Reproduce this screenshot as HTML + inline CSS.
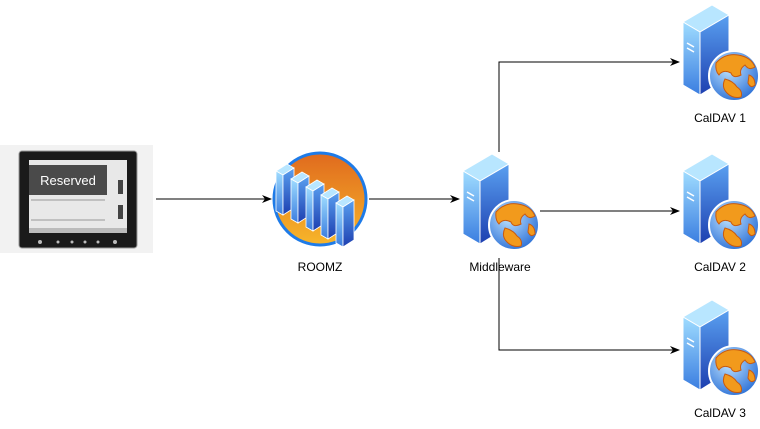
<!DOCTYPE html>
<html><head><meta charset="utf-8"><style>
body{margin:0;background:#fff;}
svg text{font-family:"Liberation Sans",sans-serif;font-size:12px;fill:#000;}
</style></head><body>
<svg width="760" height="424" viewBox="0 0 760 424" xmlns="http://www.w3.org/2000/svg">
<defs>
<linearGradient id="lf" x1="0" y1="0" x2="0" y2="1"><stop offset="0" stop-color="#9fdcff"/><stop offset="1" stop-color="#3a7de0"/></linearGradient>
<linearGradient id="rf" x1="0" y1="0" x2="0" y2="1"><stop offset="0" stop-color="#5aa0f0"/><stop offset="1" stop-color="#1d3fb0"/></linearGradient>
<radialGradient id="gl" cx="0.4" cy="0.35" r="0.7"><stop offset="0" stop-color="#bfe3ff"/><stop offset="1" stop-color="#2a6fd6"/></radialGradient>
<linearGradient id="og" x1="0" y1="0" x2="0" y2="1"><stop offset="0" stop-color="#e06a1e"/><stop offset="1" stop-color="#f7b62a"/></linearGradient>
<g id="srv">
<polygon points="0,17 29,0 46,10 17,27" fill="#b8e6ff" stroke="#fff" stroke-width="1"/>
<polygon points="0,17 17,27 17,90 0,80" fill="url(#lf)" stroke="#fff" stroke-width="1"/>
<polygon points="17,27 46,10 46,72 17,90" fill="url(#rf)" stroke="#fff" stroke-width="1"/>
<line x1="4" y1="38" x2="11" y2="42" stroke="#fff" stroke-width="1.5"/>
<line x1="4" y1="43" x2="11" y2="47" stroke="#fff" stroke-width="1.5"/>
<circle cx="51" cy="71" r="25" fill="url(#gl)" stroke="#fff" stroke-width="2"/>
<path d="M33,58 Q42,48 55,50 Q68,52 72,62 Q66,66 62,60 Q56,64 58,70 Q50,74 48,68 Q40,64 36,70 Q32,66 33,58Z" fill="#f29a1c" stroke="#c85a10" stroke-width="1"/>
<path d="M42,74 Q50,76 54,82 Q60,86 58,92 Q50,94 44,88 Q38,82 42,74Z" fill="#f29a1c" stroke="#c85a10" stroke-width="1"/>
<path d="M66,70 Q72,72 72,80 Q68,84 65,78Z" fill="#f29a1c" stroke="#c85a10" stroke-width="1"/>
</g>
<g id="mini">
<polygon points="0,8 11,1 18,5 7,12" fill="#b8e6ff" stroke="#fff" stroke-width="0.8"/>
<polygon points="0,8 7,12 7,52 0,48" fill="url(#lf)" stroke="#fff" stroke-width="0.8"/>
<polygon points="7,12 18,5 18,45 7,52" fill="url(#rf)" stroke="#fff" stroke-width="0.8"/>
</g>
<marker id="ar" markerWidth="10" markerHeight="8" refX="9" refY="4" orient="auto" markerUnits="userSpaceOnUse"><path d="M0,0 L10,4 L0,8 L3,4Z" fill="#000"/></marker>
</defs>
<!-- device -->
<rect x="0" y="145" width="153" height="108" fill="#f2f2f2"/>
<rect x="19" y="151" width="118" height="97" rx="3" fill="#1a1a1a" stroke="#999"/>
<rect x="29" y="160" width="98" height="72" fill="#e8e8e8"/>
<rect x="29" y="165" width="78" height="30" fill="#4a4a4a"/>
<text x="68" y="185" text-anchor="middle" style="font-size:13px;fill:#fff">Reserved</text>
<rect x="118" y="180" width="5" height="14" fill="#444"/>
<rect x="118" y="205" width="5" height="14" fill="#444"/>
<line x1="31" y1="200" x2="105" y2="200" stroke="#999"/>
<line x1="31" y1="220" x2="105" y2="220" stroke="#999"/>
<rect x="29" y="228" width="98" height="5" fill="#bbb"/>
<g fill="#bbb"><circle cx="40" cy="242" r="2"/><circle cx="58" cy="242" r="1.5"/><circle cx="72" cy="242" r="1.5"/><circle cx="85" cy="242" r="1.5"/><circle cx="98" cy="242" r="1.5"/><circle cx="115" cy="242" r="2"/></g>
<!-- connectors -->
<g stroke="#000" stroke-width="1" fill="none">
<line x1="156" y1="199" x2="271" y2="199" marker-end="url(#ar)"/>
<line x1="369" y1="199" x2="459" y2="199" marker-end="url(#ar)"/>
<polyline points="499,152 499,62 679,62" marker-end="url(#ar)"/>
<line x1="540" y1="211" x2="679" y2="211" marker-end="url(#ar)"/>
<polyline points="499,258 499,350 679,350" marker-end="url(#ar)"/>
</g>
<!-- ROOMZ -->
<circle cx="320" cy="199" r="46" fill="url(#og)" stroke="#1e7be8" stroke-width="3"/>
<use href="#mini" x="276" y="163"/>
<use href="#mini" x="291" y="171"/>
<use href="#mini" x="306" y="179"/>
<use href="#mini" x="321" y="187"/>
<use href="#mini" x="336" y="195"/>
<text x="320" y="271" text-anchor="middle">ROOMZ</text>
<use href="#srv" x="463" y="154"/>
<text x="500" y="271" text-anchor="middle">Middleware</text>
<use href="#srv" x="683" y="5"/>
<text x="720" y="122" text-anchor="middle">CalDAV 1</text>
<use href="#srv" x="683" y="154"/>
<text x="720" y="271" text-anchor="middle">CalDAV 2</text>
<use href="#srv" x="683" y="300"/>
<text x="720" y="417" text-anchor="middle">CalDAV 3</text>
</svg>
</body></html>
